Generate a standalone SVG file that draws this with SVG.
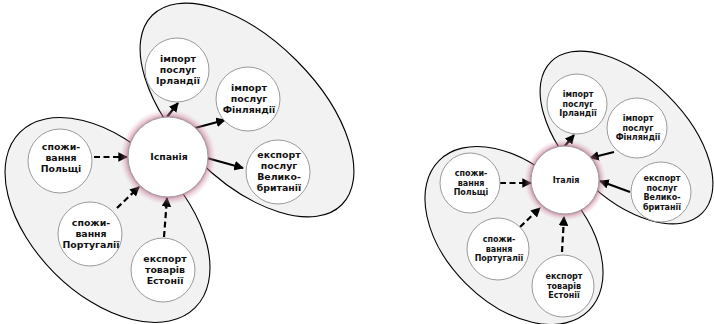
<svg xmlns="http://www.w3.org/2000/svg" width="714" height="324" viewBox="0 0 714 324">
<style>
.grp{fill:#f2f2f2;stroke:#000;stroke-width:1.1}
.node{fill:#fff;stroke:#9a9a9a;stroke-width:1}
.hub{fill:#fff;stroke:#a0a0a0;stroke-width:1}
.tl{font-family:"DejaVu Sans",Verdana,sans-serif;font-weight:bold;font-size:9.4px;fill:#111;text-anchor:middle}
.tr{font-family:"DejaVu Sans",Verdana,sans-serif;font-weight:bold;font-size:8px;fill:#111;text-anchor:middle}
.sol{stroke:#000;stroke-width:2.2;fill:none}
.dsh{stroke:#000;stroke-width:2.2;fill:none;stroke-dasharray:6 3.5}
</style>
<defs>
<marker id="ah" viewBox="0 0 10 10" refX="9" refY="5" markerWidth="4.4" markerHeight="4.4" orient="auto" markerUnits="strokeWidth">
<path d="M0,0 L10,5 L0,10 z" fill="#000"/>
</marker>
<radialGradient id="glowL" cx="0.5" cy="0.5" r="0.5">
<stop offset="0.8" stop-color="#a8406c" stop-opacity="0.8"/>
<stop offset="0.88" stop-color="#c07090" stop-opacity="0.4"/>
<stop offset="1" stop-color="#e0b0c0" stop-opacity="0"/>
</radialGradient>
</defs>

<g id="groups">
<ellipse class="grp" cx="247" cy="110" rx="134" ry="70" transform="rotate(45 247 110)"/>
<ellipse class="grp" cx="107.5" cy="220" rx="124" ry="75" transform="rotate(45 107.5 220)"/>
<ellipse class="grp" cx="626.5" cy="137.5" rx="107" ry="59" transform="rotate(45 626.5 137.5)"/>
<ellipse class="grp" cx="514" cy="235.5" rx="106" ry="68" transform="rotate(45 514 235.5)"/>
</g>

<g id="connectors">
<line class="dsh" x1="94" y1="157" x2="127" y2="157" marker-end="url(#ah)"/>
<line class="dsh" x1="117" y1="208" x2="139" y2="187" marker-end="url(#ah)"/>
<line class="dsh" x1="164" y1="237" x2="167" y2="198" marker-end="url(#ah)"/>
<line class="sol" x1="167" y1="117" x2="178" y2="103" marker-end="url(#ah)"/>
<line class="sol" x1="195" y1="128" x2="225" y2="120" marker-end="url(#ah)"/>
<line class="sol" x1="207" y1="158" x2="243" y2="168" marker-end="url(#ah)"/>

<line class="dsh" x1="500" y1="183" x2="531" y2="183" marker-end="url(#ah)"/>
<line class="dsh" x1="520" y1="227" x2="540" y2="208" marker-end="url(#ah)"/>
<line class="dsh" x1="562" y1="252" x2="564" y2="217" marker-end="url(#ah)"/>
<line class="sol" x1="564" y1="147" x2="574" y2="135" marker-end="url(#ah)"/>
<line class="sol" x1="614" y1="152" x2="590" y2="158" marker-end="url(#ah)"/>
<line class="sol" x1="630" y1="192" x2="600" y2="181" marker-end="url(#ah)"/>
</g>

<g id="hub-spain">
<circle cx="168" cy="157" r="48" fill="url(#glowL)"/>
<circle class="hub" cx="168" cy="157" r="40"/>
<text class="tl" x="169" y="160">Іспанія</text>
</g>
<g id="n-irl-l">
<circle class="node" cx="177" cy="70" r="32"/>
<text class="tl" x="178" y="62">імпорт</text><text class="tl" x="178" y="73">послуг</text><text class="tl" x="178" y="84">Ірландії</text>
</g>
<g id="n-fin-l">
<circle class="node" cx="248" cy="99" r="32"/>
<text class="tl" x="249" y="91">імпорт</text><text class="tl" x="249" y="102">послуг</text><text class="tl" x="249" y="113">Фінляндії</text>
</g>
<g id="n-gb-l">
<circle class="node" cx="278" cy="172" r="32"/>
<text class="tl" x="279" y="158">експорт</text><text class="tl" x="279" y="169">послуг</text><text class="tl" x="279" y="180">Велико-</text><text class="tl" x="279" y="191">британії</text>
</g>
<g id="n-pl-l">
<circle class="node" cx="60" cy="161" r="32"/>
<text class="tl" x="61" y="150">спожи-</text><text class="tl" x="61" y="161">вання</text><text class="tl" x="61" y="172">Польщі</text>
</g>
<g id="n-pt-l">
<circle class="node" cx="90" cy="234" r="32"/>
<text class="tl" x="91" y="226">спожи-</text><text class="tl" x="91" y="237">вання</text><text class="tl" x="91" y="248">Португалії</text>
</g>
<g id="n-ee-l">
<circle class="node" cx="163" cy="270" r="32"/>
<text class="tl" x="165" y="262">експорт</text><text class="tl" x="165" y="273">товарів</text><text class="tl" x="165" y="284">Естонії</text>
</g>

<g id="hub-italy">
<circle cx="565" cy="180" r="41" fill="url(#glowL)"/>
<circle class="hub" cx="565" cy="180" r="34"/>
<text class="tr" x="566" y="183">Італія</text>
</g>
<g id="n-irl-r">
<circle class="node" cx="577" cy="104" r="30"/>
<text class="tr" x="578" y="97">імпорт</text><text class="tr" x="578" y="106.5">послуг</text><text class="tr" x="578" y="116">Ірландії</text>
</g>
<g id="n-fin-r">
<circle class="node" cx="637" cy="128" r="30"/>
<text class="tr" x="638" y="121">імпорт</text><text class="tr" x="638" y="130.5">послуг</text><text class="tr" x="638" y="140">Фінляндії</text>
</g>
<g id="n-gb-r">
<circle class="node" cx="661" cy="192" r="30"/>
<text class="tr" x="662" y="181">експорт</text><text class="tr" x="662" y="190.5">послуг</text><text class="tr" x="662" y="200">Велико-</text><text class="tr" x="662" y="209.5">британії</text>
</g>
<g id="n-pl-r">
<circle class="node" cx="470" cy="183" r="30"/>
<text class="tr" x="471" y="176">спожи-</text><text class="tr" x="471" y="185.5">вання</text><text class="tr" x="471" y="195">Польщі</text>
</g>
<g id="n-pt-r">
<circle class="node" cx="498" cy="249" r="31"/>
<text class="tr" x="499" y="242">спожи-</text><text class="tr" x="499" y="251.5">вання</text><text class="tr" x="499" y="261">Португалії</text>
</g>
<g id="n-ee-r">
<circle class="node" cx="563" cy="286" r="31"/>
<text class="tr" x="564" y="279">експорт</text><text class="tr" x="564" y="288.5">товарів</text><text class="tr" x="564" y="298">Естонії</text>
</g>
</svg>
